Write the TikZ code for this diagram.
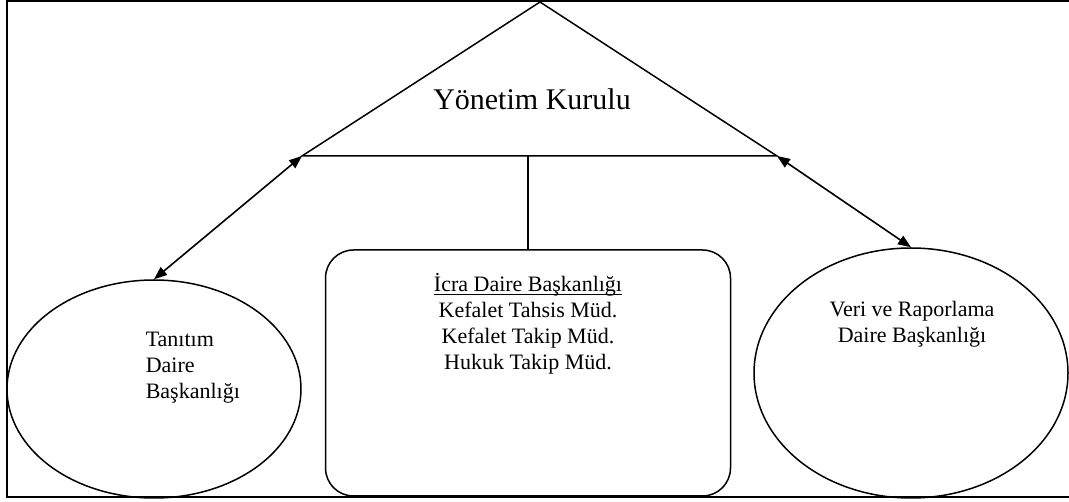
\documentclass[tikz,border=0pt]{standalone}
\usepackage{fontspec}
\setmainfont{Liberation Serif}
\usetikzlibrary{shapes.geometric,arrows.meta}
\newcommand\ulword[1]{\setbox0\hbox{#1}\rlap{\rule[-3pt]{\wd0}{0.9pt}}\box0}
\begin{document}
\begin{tikzpicture}[x=1pt, y=-1pt, line width=1.5pt,
    unit/.style={ellipse, draw=black, inner sep=0pt},
    txt/.style={inner sep=0pt, font=\fontsize{22}{26}\selectfont},
    link/.style={<->, line width=1.6pt, >={Triangle[length=13pt, width=10pt]}}]
      \useasboundingbox (0,0) rectangle (1069,502);
      \draw (1069,1) -- (7,1) -- (7,497) -- (1069,497);

      \coordinate (apex) at (540,2);
      \coordinate (bl) at (302,156);
      \coordinate (br) at (777,156);
      \coordinate (mid) at (528,156);
      \draw (apex) -- (br) -- (bl) -- cycle;
      \node[inner sep=0pt, font=\fontsize{30}{36}\selectfont] (kurul) at (532,99) {Yönetim Kurulu};

      \node[draw=black, rounded corners=28pt, minimum width=405pt, minimum height=246pt] (icra) at (528,373) {};
      \node[unit, minimum width=294pt, minimum height=218pt] (tanitim) at (154,389) {};
      \node[unit, minimum width=314pt, minimum height=250pt] (veri) at (911,373) {};

      \node[txt, anchor=north, align=center] (icratxt) at (528,273)
        {\ulword{İcra Daire Başkanlığı}\\Kefalet Tahsis Müd.\\Kefalet Takip Müd.\\Hukuk Takip Müd.};
      \node[txt, anchor=north west, align=left] (tanitimtxt) at (145,331) {Tanıtım\\Daire\\Başkanlığı};
      \node[txt, anchor=north, align=center] (veritxt) at (912,300) {Veri ve Raporlama\\Daire Başkanlığı};

      \draw (mid) -- (icra.north);
      \draw[link] (bl) -- (tanitim.north);
      \draw[link] (br) -- (veri.north);
    \end{tikzpicture}
\end{document}
